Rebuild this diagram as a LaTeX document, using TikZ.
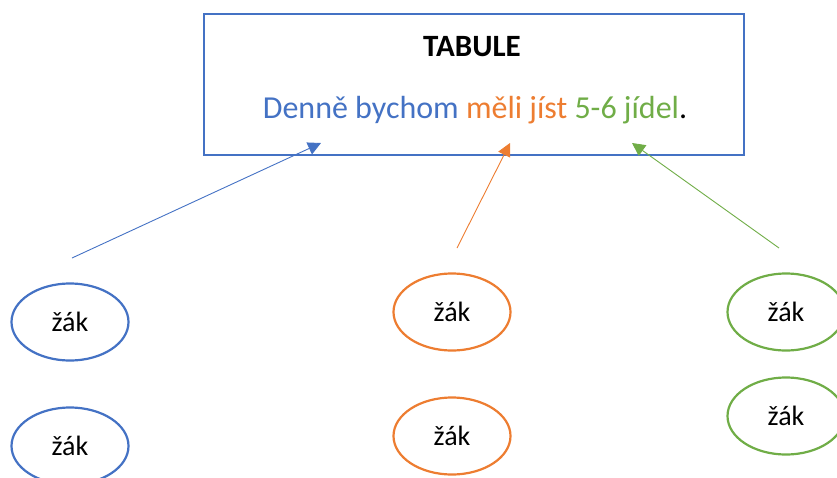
\documentclass[tikz,border=0pt]{standalone}
\usepackage{fontspec}
\setmainfont{Carlito}
\usetikzlibrary{shapes.geometric,arrows.meta}
\definecolor{cblue}{HTML}{4472C4}
\definecolor{corange}{HTML}{ED7D31}
\definecolor{cgreen}{HTML}{70AD47}
\tikzset{
  zak/.style={ellipse, draw=#1, line width=2.2pt, minimum width=117pt, minimum height=77pt, inner sep=0pt, font=\fontsize{28}{32}\selectfont},
  link/.style={draw=#1, line width=0.9pt, -{Triangle[length=13pt,width=13pt]}},
}
\begin{document}
\begin{tikzpicture}[x=1pt,y=-1pt]
\useasboundingbox (0,0) rectangle (837,477);
\node[draw=cblue, line width=2.4pt, minimum width=540pt, minimum height=141pt, inner sep=0pt] (tab) at (474,84.5) {};
\node[font=\fontsize{31}{35}\selectfont\bfseries] (title) at (472,47) {TABULE};
\node[font=\fontsize{32}{36}\selectfont] (sent) at (475,110) {\textcolor{cblue}{Denně bychom} \textcolor{corange}{měli jíst} \textcolor{cgreen}{5-6 jídel}.};
\node[zak=cblue] (b1) at (70,322) {žák};
\node[zak=cblue] (b2) at (70,446) {žák};
\node[zak=corange] (o1) at (452,312) {žák};
\node[zak=corange] (o2) at (452,436) {žák};
\node[zak=cgreen] (g1) at (786,312) {žák};
\node[zak=cgreen] (g2) at (786,416) {žák};
\coordinate (bs) at (72,258);
\coordinate (os) at (457,248);
\coordinate (gs) at (779,248);
\coordinate (bt) at (321,143);
\coordinate (ot) at (510,143);
\coordinate (gt) at (632,143);
\draw[link=cblue] (bs) -- (bt);
\draw[link=corange] (os) -- (ot);
\draw[link=cgreen] (gs) -- (gt);
\end{tikzpicture}
\end{document}
